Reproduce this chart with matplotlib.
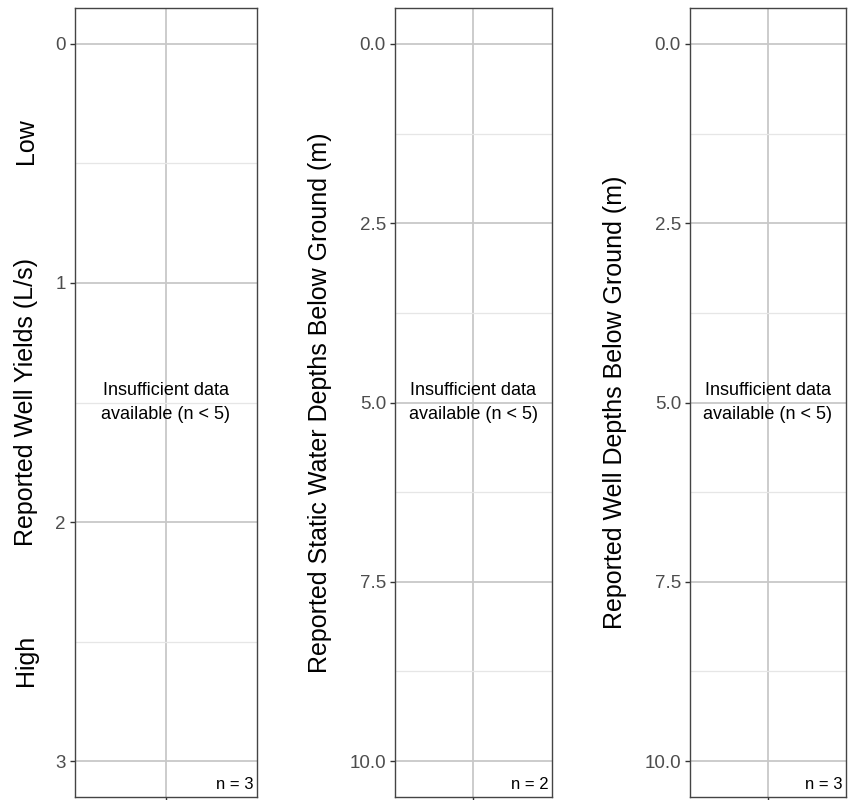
#!/usr/bin/env python3
"""Three empty well-summary panels with 'insufficient data' notes."""

import matplotlib
matplotlib.use("Agg")
import matplotlib.pyplot as plt
from matplotlib.ticker import FixedLocator, NullFormatter

plt.rcParams["font.family"] = ["Liberation Sans", "DejaVu Sans"]

# panel definitions
ylabels = [
    "Reported Well Yields (L/s)",
    "Reported Static Water Depths Below Ground (m)",
    "Reported Well Depths Below Ground (m)",
]
y_limits = [(0, 3), (0, 10), (0, 10)]
major_ticks = [[0, 1, 2, 3], [0.0, 2.5, 5.0, 7.5, 10.0], [0.0, 2.5, 5.0, 7.5, 10.0]]
tick_labels = [["0", "1", "2", "3"],
               ["0.0", "2.5", "5.0", "7.5", "10.0"],
               ["0.0", "2.5", "5.0", "7.5", "10.0"]]
minor_ticks = [[0.5, 1.5, 2.5], [1.25, 3.75, 6.25, 8.75], [1.25, 3.75, 6.25, 8.75]]
n_counts = [3, 2, 3]
note = "Insufficient data\navailable (n < 5)"
scale_labels = ["Low", "High"]

W, H = 854, 800
# axes boxes in pixels: left, right
boxes = [(75, 257), (395, 552), (690, 846)]
top_px, bot_px = 8, 797
label_x = [26, 320, 615]

fig = plt.figure(figsize=(W / 100, H / 100), dpi=100)
fig.patch.set_facecolor("white")

for i in range(3):
    l, r = boxes[i]
    ax = fig.add_axes([l / W, 1 - bot_px / H, (r - l) / W, (bot_px - top_px) / H])
    lo, hi = y_limits[i]
    pad = (hi - lo) * 0.05
    ax.set_ylim(hi + pad, lo - pad)
    ax.set_xlim(0.4, 1.6)

    ax.yaxis.set_major_locator(FixedLocator(major_ticks[i]))
    ax.set_yticklabels(tick_labels[i])
    ax.yaxis.set_minor_locator(FixedLocator(minor_ticks[i]))
    ax.yaxis.set_minor_formatter(NullFormatter())
    ax.set_xticks([1])
    ax.set_xticklabels([""])

    ax.grid(True, which="major", color="#c8c8c8", linewidth=1.3)
    ax.grid(True, which="minor", axis="y", color="#e6e6e6", linewidth=0.9)
    ax.set_axisbelow(True)

    ax.tick_params(axis="y", which="major", length=3.5, width=1.0, color="#333333",
                   labelsize=13.5, labelcolor="#4d4d4d", pad=3)
    ax.tick_params(axis="x", which="major", length=3.5, width=1.0, color="#333333")
    ax.tick_params(which="minor", length=0)
    for spine in ax.spines.values():
        spine.set_color("#444444")
        spine.set_linewidth(1.0)

    ax.text(0.5, 0.5, note, transform=ax.transAxes, ha="center", va="center",
            fontsize=13, color="black", linespacing=1.55)
    ax.text(0.98, 0.006, f"n = {n_counts[i]}", transform=ax.transAxes,
            ha="right", va="bottom", fontsize=12, color="black")

    yc = 1 - (top_px + bot_px) / 2 / H
    fig.text(label_x[i] / W, yc, ylabels[i], rotation=90, ha="center",
             va="center", fontsize=18, color="black")

# low / high markers beside the yield axis
fig.text(label_x[0] / W, 1 - 141 / H, scale_labels[0], rotation=90,
         ha="center", va="center", fontsize=18, color="black")
fig.text(label_x[0] / W, 1 - 660 / H, scale_labels[1], rotation=90,
         ha="center", va="center", fontsize=18, color="black")

fig.savefig("out.png", dpi=100, facecolor=fig.get_facecolor())
